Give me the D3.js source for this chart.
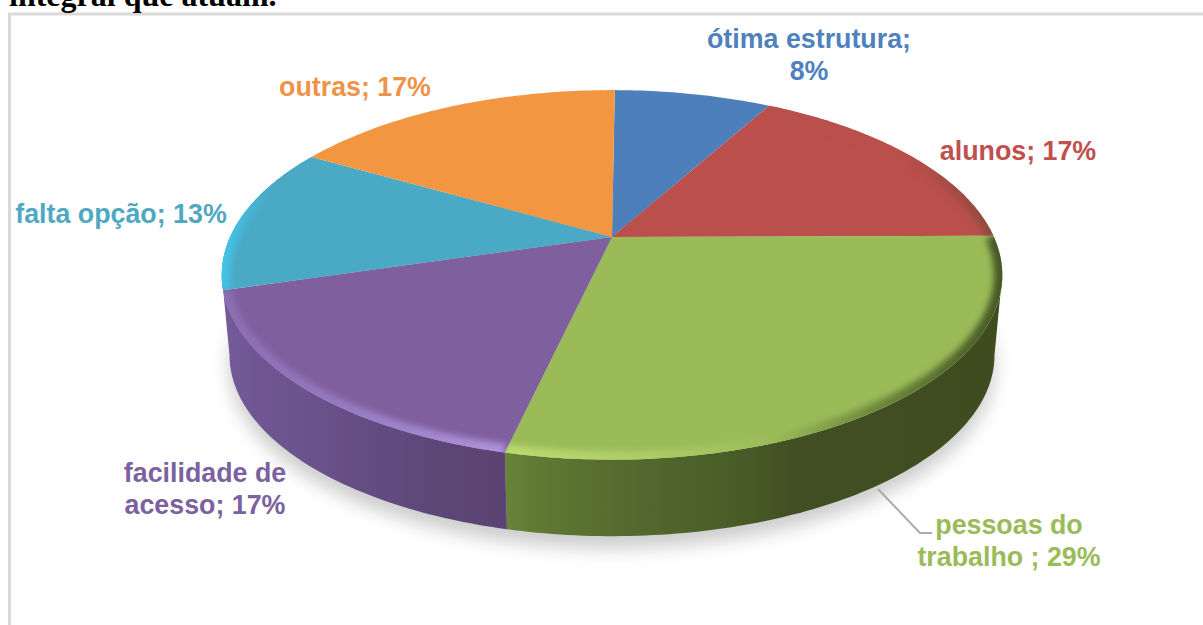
<!DOCTYPE html>
<html lang="pt">
<head>
<meta charset="utf-8">
<script src="https://cdn.jsdelivr.net/npm/d3@7"></script>
<style>
html,body{margin:0;padding:0;background:#fff;overflow:hidden}
svg{display:block}
</style>
</head>
<body>
<svg id="chart" width="1203" height="625"></svg>
<script>
// Survey answers, in clockwise order from twelve o'clock
const categories = ["ótima estrutura", "alunos", "pessoas do trabalho ", "facilidade de acesso", "falta opção", "outras"];
const percents = [8, 17, 29, 17, 13, 17];
const sliceColors = ["#4d7fbb", "#ba4f4c", "#9bbb59", "#7f5f9e", "#4aa9c5", "#f39642"];
const labelColors = ["#4f81bd", "#c0504d", "#9bbb59", "#7c619f", "#4fa8c2", "#ee9348"];

// Anchor of the first text line of each data label
const labelLayout = [
  {x: 809,  y: 48},
  {x: 1018, y: 160},
  {x: 1009, y: 534},
  {x: 205,  y: 482},
  {x: 121,  y: 223},
  {x: 355,  y: 96}
];
const labelFirstLines = {0: "ótima estrutura;", 2: "pessoas do", 3: "facilidade de"};
const heading = "integral que atuam.";

const svg = d3.select("#chart");
const defs = svg.append("defs");

// Perspective view of the disc: the hub sits above the centre of the visible ellipse
const hub = {x: 612, y: 237};
const radiusX = 382, radiusY = 177, tilt = 0.205;
const wallDepth = 81, lowerScale = 0.98;
const firstAngle = 0.5 * Math.PI / 180;
// Angle at which the rim reaches its rightmost point on screen; the wall's silhouette starts there
const silhouetteAngle = Math.PI - Math.acos(tilt);

function project(angle, depth) {
  const u = Math.sin(angle), v = -Math.cos(angle), w = 1 - tilt * v;
  const s = depth ? lowerScale : 1;
  return [hub.x + s * radiusX * u / w, hub.y + depth + s * radiusY * v / w];
}
function rim(a0, a1, depth) {
  const n = Math.max(2, Math.ceil(Math.abs(a1 - a0) * 60));
  return d3.range(n + 1).map(i => project(a0 + (a1 - a0) * i / n, depth));
}
const line = d3.line();
const slices = d3.pie().sort(null).value(d => d)
  .startAngle(firstAngle).endAngle(firstAngle + 2 * Math.PI)(percents);

// Blur filters
function blur(id, sd) {
  defs.append("filter").attr("id", id)
    .attr("x", "-20%").attr("y", "-20%").attr("width", "140%").attr("height", "140%")
    .append("feGaussianBlur").attr("stdDeviation", sd);
}
blur("shadowBlur", 9);
blur("bevelBlur", 3.4);

// Horizontal gradients, in page coordinates
function gradient(id, x1, x2, stops) {
  const g = defs.append("linearGradient").attr("id", id)
    .attr("gradientUnits", "userSpaceOnUse")
    .attr("x1", x1).attr("x2", x2).attr("y1", 0).attr("y2", 0);
  stops.forEach(([o, c]) => g.append("stop").attr("offset", o).attr("stop-color", c));
}
gradient("wall2", 493, 1002, [[0, "#6b8839"], [0.1, "#5f7833"], [0.28, "#53692e"], [0.45, "#4a5f29"], [0.6, "#414f22"], [1, "#3e4c20"]]);
gradient("wall3", 222, 495, [[0, "#735a99"], [0.4, "#685088"], [0.8, "#5c4676"], [1, "#5b4474"]]);
gradient("bevel2", 493, 1002, [[0, "#bcdc70"], [0.3, "#aecd66"], [0.55, "#9bbb59"], [0.74, "#6f8a3c"], [1, "#465826"]]);
gradient("bevel3", 222, 495, [[0, "#8a6db0"], [0.4, "#9579c0"], [1, "#ae92da"]]);
gradient("bevel4", 222, 320, [[0, "#43c3e6"], [0.5, "#4aa9c5"], [1, "#4aa9c5"]]);
gradient("bevel1", 900, 1000, [[0, "#ba4f4c"], [1, "#8f4a3e"]]);

// Page frame and the line of text cut by its upper edge
svg.append("rect").attr("x", 9.5).attr("y", 14).attr("width", 1240).attr("height", 680)
  .attr("fill", "#fff").attr("stroke", "#d9d9d9").attr("stroke-width", 3);
svg.append("text").attr("x", 9).attr("y", 6)
  .attr("font-family", "'Liberation Serif', serif").attr("font-weight", 700)
  .attr("font-size", 32).attr("fill", "#000").text(heading);

// Soft shadow under the disc
svg.append("path")
  .attr("d", line(rim(0, 2 * Math.PI, wallDepth + 12)) + "Z")
  .attr("fill", "#9a9a9a").attr("opacity", 0.5).attr("filter", "url(#shadowBlur)");

// Outer wall of the slices facing the viewer, running out to the disc's silhouette on both sides
const wallFills = {2: "url(#wall2)", 3: "url(#wall3)"};
function wallRange(s) {
  if (s.index === 2) return [Math.max(s.startAngle, silhouetteAngle), s.endAngle];
  return [s.startAngle, Math.max(s.endAngle, 2 * Math.PI - silhouetteAngle)];
}
svg.append("g").selectAll("path")
  .data(slices.filter(s => wallFills[s.index]))
  .join("path")
  .attr("d", s => {
    const [a0, a1] = wallRange(s);
    return line(rim(a0, a1, 0).concat(rim(a1, a0, wallDepth))) + "Z";
  })
  .attr("fill", s => wallFills[s.index]);

// Top faces
function wedge(s) {
  return line([[hub.x, hub.y]].concat(rim(s.startAngle, s.endAngle, 0))) + "Z";
}
slices.forEach(s => {
  defs.append("clipPath").attr("id", "face" + s.index).append("path").attr("d", wedge(s));
});
svg.append("g").selectAll("path")
  .data(slices)
  .join("path")
  .attr("d", wedge)
  .attr("fill", s => sliceColors[s.index]);

// Rounded edge catching the light along the rim
const bevels = {1: "url(#bevel1)", 2: "url(#bevel2)", 3: "url(#bevel3)", 4: "url(#bevel4)"};
svg.append("g").selectAll("g")
  .data(slices.filter(s => bevels[s.index]))
  .join("g")
  .attr("clip-path", s => `url(#face${s.index})`)
  .append("path")
  .attr("d", s => line(rim(s.startAngle, s.endAngle, 0)))
  .attr("fill", "none")
  .attr("stroke", s => bevels[s.index])
  .attr("stroke-width", 17)
  .attr("filter", "url(#bevelBlur)");

// Leader line of the largest slice
svg.append("path")
  .attr("d", line([[878, 489], [920, 533], [932, 533]]))
  .attr("fill", "none").attr("stroke", "#ababab").attr("stroke-width", 2);

// Data labels: "name; value%"
function labelLines(i) {
  const text = `${categories[i]}; ${percents[i]}%`;
  const first = labelFirstLines[i];
  return first ? [first, text.slice(first.length).trim()] : [text];
}
const labels = svg.append("g")
  .attr("font-family", "'Liberation Sans', Arial, sans-serif")
  .attr("font-weight", 700).attr("font-size", 26.8).attr("text-anchor", "middle");
labelLayout.forEach((p, i) => {
  labelLines(i).forEach((t, k) => {
    labels.append("text").attr("x", p.x).attr("y", p.y + k * 32)
      .attr("fill", labelColors[i]).text(t);
  });
});
</script>
</body>
</html>
